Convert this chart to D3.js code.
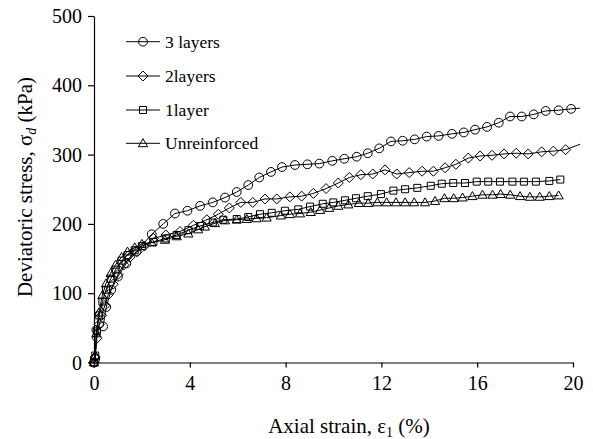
<!DOCTYPE html>
<html>
<head>
<meta charset="utf-8">
<script src="https://cdn.jsdelivr.net/npm/d3@7"></script>
<style>
  body { margin: 0; background: #fff; }
  svg { display: block; }
  svg text { font-family: "Liberation Serif", "Times New Roman", serif !important; fill: #000; }
</style>
</head>
<body>
<svg id="chart" width="593" height="439" font-family="Liberation Serif, serif"></svg>
<script>
// ---- Data ----
const seriesNames = ["3 layers", "2layers", "1layer", "Unreinforced"];

const strain3 = [0, 0.05, 0.1, 0.38, 0.51, 0.72, 1.0, 1.35, 1.77, 2.41, 2.89, 3.38, 3.90, 4.43, 4.96, 5.47, 5.96, 6.44, 6.90, 7.39, 7.85, 8.39, 8.91, 9.41, 9.95, 10.45, 10.97, 11.43, 11.91, 12.40, 12.89, 13.39, 13.89, 14.39, 14.95, 15.44, 15.91, 16.41, 16.90, 17.37, 17.86, 18.36, 18.86, 19.40, 19.92];
const stress3 = [0, 5, 47, 52, 80, 105, 124, 143, 160, 185, 200, 215, 219, 226, 231, 238, 246, 256, 267, 275, 282, 285, 286, 287, 291, 294, 297, 302, 309, 319, 320, 322, 326, 327, 330, 332, 336, 340, 346, 355, 355, 358, 363, 364, 366];
const tail3 = [20.3, 367];

const strain2 = [0, 0.05, 0.12, 0.22, 0.32, 0.45, 0.6, 0.8, 1.0, 1.25, 1.5, 1.8, 2.1, 2.48, 3.0, 3.59, 4.15, 4.71, 5.19, 5.65, 6.13, 6.63, 7.14, 7.63, 8.18, 8.67, 9.16, 9.69, 10.20, 10.66, 11.14, 11.64, 12.15, 12.64, 13.16, 13.70, 14.17, 14.66, 15.11, 15.63, 16.12, 16.62, 17.12, 17.63, 18.13, 18.69, 19.18, 19.69];
const stress2 = [0, 8, 35, 55, 68, 82, 98, 113, 127, 141, 152, 160, 168, 179, 184, 189, 198, 206, 214, 223, 231, 231, 236, 236, 239, 240, 244, 251, 259, 267, 271, 272, 278, 272, 274, 276, 276, 281, 286, 295, 298, 299, 301, 302, 301, 304, 305, 307];
const tail2 = [20.3, 315];

const strain1 = [0, 0.05, 0.12, 0.22, 0.35, 0.5, 0.7, 0.9, 1.15, 1.4, 1.7, 2.0, 2.48, 3.0, 3.45, 3.94, 4.43, 4.96, 5.40, 5.96, 6.44, 6.93, 7.42, 7.97, 8.53, 9.02, 9.55, 9.99, 10.48, 10.94, 11.43, 11.98, 12.50, 12.99, 13.50, 14.06, 14.52, 15.00, 15.49, 15.98, 16.46, 16.95, 17.47, 17.95, 18.45, 19.01, 19.47];
const stress1 = [0, 10, 45, 68, 88, 105, 121, 134, 147, 155, 162, 168, 174, 179, 184, 191, 197, 202, 206, 207, 210, 214, 216, 219, 221, 225, 229, 231, 234, 237, 240, 243, 248, 250, 252, 255, 258, 259, 259, 261, 261, 261, 261, 261, 261, 262, 264];

const strain0 = [0, 0.05, 0.1, 0.2, 0.35, 0.5, 0.7, 0.9, 1.15, 1.4, 1.7, 2.0, 2.41, 2.96, 3.45, 3.94, 4.35, 4.63, 5.05, 5.47, 5.96, 6.38, 6.79, 7.21, 7.8, 8.18, 8.60, 9.05, 9.44, 9.82, 10.20, 10.62, 11.06, 11.45, 11.83, 12.22, 12.61, 12.99, 13.37, 13.82, 14.24, 14.63, 15.02, 15.39, 15.80, 16.22, 16.64, 16.98, 17.38, 17.79, 18.20, 18.61, 19.01, 19.40];
const stress0 = [0, 10, 42, 72, 97, 114, 129, 141, 152, 160, 166, 171, 173, 177, 182, 186, 192, 196, 201, 205, 206, 207, 208, 209, 212, 214, 215, 217, 220, 223, 226, 228, 230, 230, 231, 231, 231, 231, 231, 231, 233, 237, 237, 238, 240, 242, 242, 243, 242, 240, 239, 239, 240, 241];

const xTicks = [0, 4, 8, 12, 16, 20];
const yTicks = [0, 100, 200, 300, 400, 500];

// ---- Layout ----
const FONT = '"Liberation Serif", "Times New Roman", serif';
const svg = d3.select("#chart");
const x = d3.scaleLinear().domain([0, 20]).range([94, 573]);
const y = d3.scaleLinear().domain([0, 500]).range([362.5, 16]);

const zip = (xs, ys) => xs.map((v, i) => [v, ys[i]]);
const series = [
  { name: seriesNames[0], pts: zip(strain3, stress3), tail: tail3, sym: "circle" },
  { name: seriesNames[1], pts: zip(strain2, stress2), tail: tail2, sym: "diamond" },
  { name: seriesNames[2], pts: zip(strain1, stress1), tail: null, sym: "square" },
  { name: seriesNames[3], pts: zip(strain0, stress0), tail: null, sym: "triangle" }
];

const symbolPath = {
  circle: d3.symbol().type(d3.symbolCircle).size(Math.PI * 4.4 * 4.4)(),
  diamond: "M0,-5L5,0L0,5L-5,0Z",
  square: d3.symbol().type(d3.symbolSquare).size(49)(),
  triangle: "M0,-4.6L4.6,3.4L-4.6,3.4Z"
};

// Axes
const xAxis = d3.axisBottom(x).tickValues(xTicks).tickSize(5).tickSizeOuter(0).tickFormat(d3.format("d"));
const yAxis = d3.axisLeft(y).tickValues(yTicks).tickSize(6).tickSizeOuter(0).tickFormat(d3.format("d"));

const gx = svg.append("g").attr("transform", `translate(0,${y(0)})`).call(xAxis);
const gy = svg.append("g").attr("transform", `translate(${x(0)},0)`).call(yAxis);
[gx, gy].forEach(g => {
  g.attr("font-family", FONT).attr("font-size", 20);
  g.select(".domain").attr("stroke", "#000").attr("stroke-width", 1.2);
  g.selectAll(".tick line").attr("stroke", "#000").attr("stroke-width", 1.2);
  g.selectAll(".tick text").attr("font-family", FONT).attr("font-size", 20).attr("fill", "#000");
});
gx.selectAll(".tick text").attr("y", 13).attr("dy", "0.71em");
gy.selectAll(".tick text").attr("x", -12).attr("dy", "0.33em");

// Lines
const line = d3.line().x(d => x(d[0])).y(d => y(d[1]));
series.forEach(s => {
  const pts = s.tail ? s.pts.concat([s.tail]) : s.pts;
  svg.append("path").datum(pts).attr("d", line)
    .attr("fill", "none").attr("stroke", "#000").attr("stroke-width", 1);
});

// Markers
series.forEach(s => {
  svg.append("g").selectAll("path").data(s.pts).join("path")
    .attr("transform", d => `translate(${x(d[0])},${y(d[1])})`)
    .attr("d", symbolPath[s.sym])
    .attr("fill", "none").attr("stroke", "#000").attr("stroke-width", 1);
});

// Legend
const legendY = [41.7, 76, 110, 143.3];
series.forEach((s, i) => {
  const g = svg.append("g").attr("transform", `translate(0,${legendY[i]})`);
  g.append("line").attr("x1", 126).attr("x2", 160).attr("y1", 0).attr("y2", 0)
    .attr("stroke", "#000").attr("stroke-width", 1);
  g.append("path").attr("transform", "translate(143,0)").attr("d", symbolPath[s.sym])
    .attr("fill", "none").attr("stroke", "#000").attr("stroke-width", 1);
  g.append("text").attr("x", 165).attr("y", 0).attr("dy", "0.34em")
    .attr("font-family", FONT).attr("font-size", 17.5).text(s.name);
});

// Axis titles
const xt = svg.append("text").attr("x", 349).attr("y", 433).attr("text-anchor", "middle")
  .attr("font-family", FONT).attr("font-size", 21);
xt.append("tspan").text("Axial strain, ε");
xt.append("tspan").attr("font-size", 14).attr("dy", 4).text("1");
xt.append("tspan").attr("dy", -4).text(" (%)");

const yt = svg.append("text").attr("transform", "translate(32,187) rotate(-90)")
  .attr("text-anchor", "middle").attr("font-family", FONT).attr("font-size", 21);
yt.append("tspan").text("Deviatoric stress, σ");
yt.append("tspan").attr("font-size", 14).attr("font-style", "italic").attr("dy", 4).text("d");
yt.append("tspan").attr("dy", -4).text(" (kPa)");
</script>
</body>
</html>
